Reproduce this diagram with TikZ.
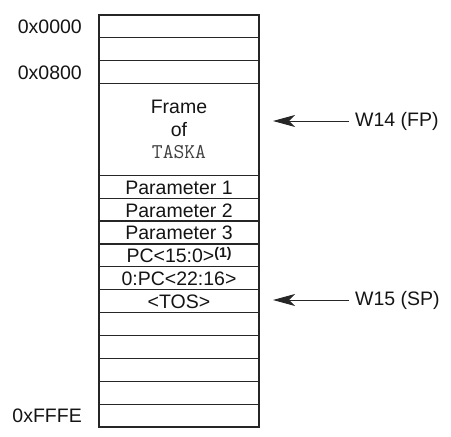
\documentclass[tikz,border=0pt]{standalone}
\usepackage{fontspec}
\setmainfont{Liberation Sans}
\usetikzlibrary{arrows.meta}
\tikzset{
  cell/.style={draw=black!85, line width=1.2pt, minimum width=160pt, minimum height=22.89pt,
    inner sep=0pt, text height=15pt, text depth=0pt, text=black!92},
  framecell/.style={draw=black!85, line width=1.2pt, minimum width=160pt, minimum height=91.56pt,
    inner sep=0pt, align=center, text=black!92},
  addr/.style={anchor=east, inner sep=0pt, text height=14pt, text depth=0pt, text=black!92},
  reg/.style={anchor=west, inner sep=0pt, text height=14pt, text depth=4pt, text=black!92},
  ptr/.style={-{Stealth[length=22pt,width=12pt,inset=6pt]}, line width=1pt, draw=black!85},
}
\begin{document}
\begin{tikzpicture}[x=1pt,y=-1pt, font=\fontsize{19.5}{22.5}\selectfont]
\useasboundingbox (0,0) rectangle (451,437);
\def\h{22.89}
% stack cells
\node[cell] (r0) at (179,{15+0.5*\h}) {};
\node[cell] (r1) at (179,{15+1.5*\h}) {};
\node[cell] (r2) at (179,{15+2.5*\h}) {};
\node[framecell] (frame) at (179,{15+5*\h}) {Frame\\of\\{\ttfamily\fontsize{21}{22.5}\selectfont\color{black!75}TASKA}};
\node[cell] (p1) at (179,{15+7.5*\h}) {Parameter 1};
\node[cell] (p2) at (179,{15+8.5*\h}) {Parameter 2};
\node[cell] (p3) at (179,{15+9.5*\h}) {Parameter 3};
\node[cell] (pcl) at (179,{15+10.5*\h}) {PC<15:0>\raisebox{5pt}{\fontsize{14}{14}\selectfont\bfseries(1)}};
\node[cell] (pch) at (179,{15+11.5*\h}) {0:PC<22:16>};
\node[cell] (tos) at (179,{15+12.5*\h}) {<TOS>};
\node[cell] (e1) at (179,{15+13.5*\h}) {};
\node[cell] (e2) at (179,{15+14.5*\h}) {};
\node[cell] (e3) at (179,{15+15.5*\h}) {};
\node[cell] (e4) at (179,{15+16.5*\h}) {};
\node[cell] (last) at (179,{15+17.5*\h}) {};
% addresses
\node[addr] (a0) at (82,{15+0.5*\h}) {0x0000};
\node[addr] (a800) at (82,{15+2.5*\h}) {0x0800};
\node[addr] (afffe) at (82,{15+17.5*\h}) {0xFFFE};
% pointers
\node[reg] (w14) at (355,121) {W14 (FP)};
\node[reg] (w15) at (355,300) {W15 (SP)};
\coordinate (t14) at (273,121);
\coordinate (t15) at (273,300);
\draw[ptr] ([xshift=-6pt]w14.west) -- (t14);
\draw[ptr] ([xshift=-6pt]w15.west) -- (t15);
\end{tikzpicture}
\end{document}
